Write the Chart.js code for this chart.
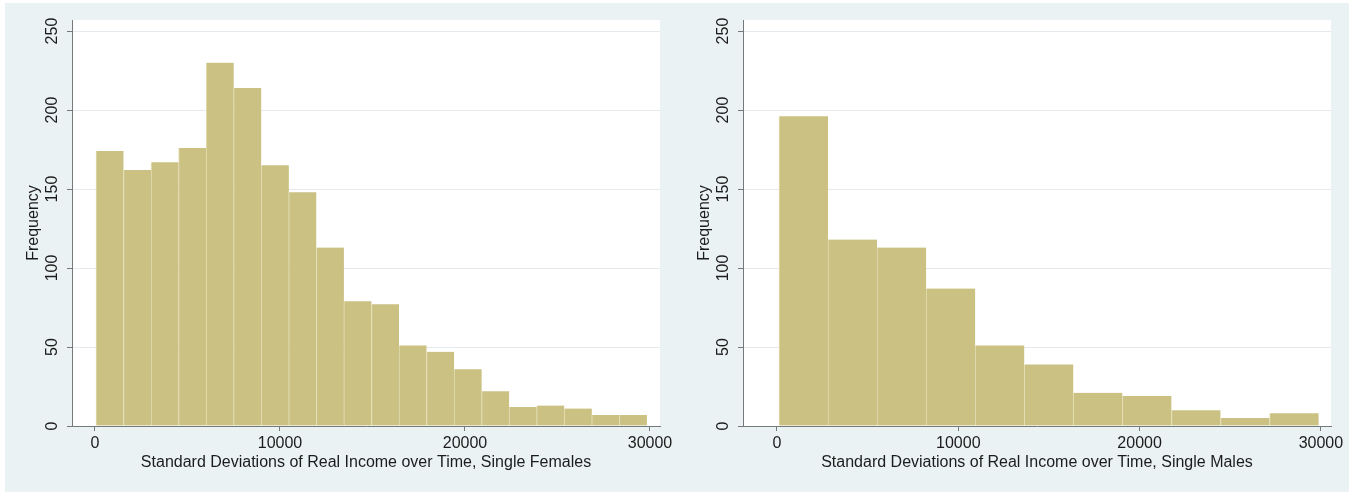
<!DOCTYPE html>
<html>
<head>
<meta charset="utf-8">
<script src="https://cdn.jsdelivr.net/npm/chart.js@4"></script>
<style>
  html, body { margin: 0; padding: 0; background: #ffffff; }
  #frame { position: absolute; left: 5px; top: 3px; width: 1344px; height: 489px; background: #eaf2f3; }
  canvas { position: absolute; }
</style>
</head>
<body>
<div id="frame"></div>
<canvas id="females" width="695" height="488" style="left:5px;top:4px"></canvas>
<canvas id="males" width="678" height="488" style="left:676px;top:4px"></canvas>
<script>
// Histogram bins: lower edge of the first bin and common bin width
const femaleBinStart = 54;
const femaleBinWidth = 1489;
const femaleCounts = [174, 162, 167, 176, 230, 214, 165, 148, 113, 79, 77, 51, 47, 36, 22, 12, 13, 11, 7, 7];

const maleBinStart = 110;
const maleBinWidth = 2706;
const maleCounts = [196, 118, 113, 87, 51, 39, 21, 19, 10, 5, 8];

const xTicks = [0, 10000, 20000, 30000];
const yTicks = [0, 50, 100, 150, 200, 250];

const femaleTitle = 'Standard Deviations of Real Income over Time, Single Females';
const maleTitle = 'Standard Deviations of Real Income over Time, Single Males';

const FONT = "'Liberation Sans', Arial, Helvetica, sans-serif";
const BAR = '#cac183';
const BAR_EDGE = '#e3ddb2';
const AXIS = '#74797c';
const GRID = '#e4eaed';
const TEXT = '#1c1c1c';

// white plot region behind the bars
const plotBackground = {
  id: 'plotBackground',
  beforeDraw(chart) {
    const { ctx, chartArea: a } = chart;
    ctx.save();
    ctx.fillStyle = '#ffffff';
    ctx.fillRect(a.left, a.top, a.right - a.left, a.bottom - a.top);
    ctx.restore();
  }
};

const plain = v => String(v);

function histogram(canvasId, start, width, counts, xMin, xMax, title, rightPad) {
  const points = counts.map((c, i) => ({ x: start + width * (i + 0.5), y: c }));
  return new Chart(document.getElementById(canvasId), {
    type: 'bar',
    data: {
      datasets: [{
        data: points,
        backgroundColor: BAR,
        borderColor: BAR_EDGE,
        borderWidth: { left: 1, right: 0, top: 0, bottom: 0 },
        borderSkipped: false,
        categoryPercentage: 1,
        barPercentage: 1
      }]
    },
    options: {
      responsive: false,
      animation: false,
      devicePixelRatio: 1,
      layout: { padding: { left: 0, top: 16, right: rightPad, bottom: 0 } },
      plugins: { legend: { display: false }, tooltip: { enabled: false } },
      scales: {
        x: {
          type: 'linear',
          min: xMin,
          max: xMax,
          offset: false,
          afterBuildTicks: s => { s.ticks = xTicks.map(v => ({ value: v })); },
          afterFit: s => { s.height = 66; s.paddingLeft = 0; s.paddingRight = 0; },
          border: { display: true, color: AXIS, width: 1 },
          grid: { display: true, offset: false, drawOnChartArea: false, drawTicks: true, tickLength: 5, tickColor: AXIS, tickWidth: 1 },
          ticks: { color: TEXT, font: { family: FONT, size: 16 }, padding: 3, maxRotation: 0, autoSkip: false, callback: plain },
          title: { display: true, text: title, color: TEXT, font: { family: FONT, size: 16 }, padding: { top: 0, bottom: 20 } }
        },
        y: {
          type: 'linear',
          min: 0,
          max: 257,
          afterBuildTicks: s => { s.ticks = yTicks.map(v => ({ value: v })); },
          afterFit: s => { s.width = 67; s.paddingTop = 0; s.paddingBottom = 0; },
          border: { display: true, color: AXIS, width: 1 },
          grid: { display: true, color: GRID, lineWidth: 1, drawTicks: true, tickLength: 5, tickColor: AXIS, tickWidth: 1 },
          ticks: { color: TEXT, font: { family: FONT, size: 16 }, padding: 1, minRotation: 90, maxRotation: 90, crossAlign: 'center', autoSkip: false, callback: plain },
          title: { display: true, text: 'Frequency', color: TEXT, font: { family: FONT, size: 16 }, padding: { top: 19, bottom: 0 } }
        }
      }
    },
    plugins: [plotBackground]
  });
}

histogram('females', femaleBinStart, femaleBinWidth, femaleCounts, -1243, 30541, femaleTitle, 40);
histogram('males', maleBinStart, maleBinWidth, maleCounts, -1875, 30558, maleTitle, 23);
</script>
</body>
</html>
